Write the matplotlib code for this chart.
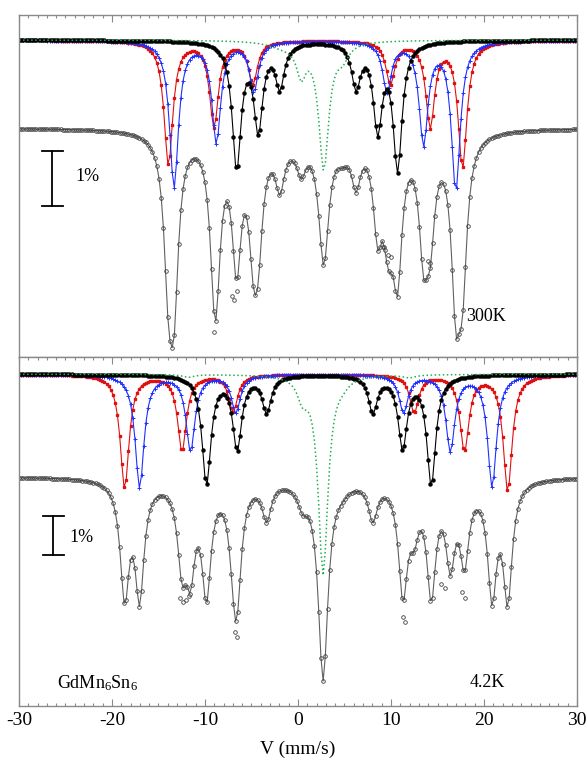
import numpy as np
import matplotlib
matplotlib.use('Agg')
import matplotlib.pyplot as plt
from matplotlib.ticker import MultipleLocator

# velocity channels (folded spectrum, 256 channels)
n_channels = 256
v_min, v_max = -30.0, 30.0

# ---- 300 K : line positions (mm/s), depths (%), widths (mm/s) ----
top_red_pos = [-13.93, -9.03, -4.85, 9.93, 14.22, 17.69]
top_red_depth = [2.26, 1.56, 0.78, 0.78, 1.54, 2.30]
top_blue_pos = [-13.33, -8.78, -4.74, 9.57, 13.50, 16.97]
top_blue_depth = [2.66, 1.83, 0.90, 0.90, 1.85, 2.70]
top_black_pos = [-6.60, -4.27, -1.95, 6.24, 8.57, 10.71]
top_black_depth = [2.28, 1.56, 0.80, 0.80, 1.56, 2.30]
top_green_pos = [-1.5, 0.35, 2.77, 4.8]
top_green_depth = [0.10, 0.55, 2.30, 0.25]
top_green_width = [4.0, 1.2, 1.3, 1.6]

# measured points that sit off the fit (velocity, %)
top_off_v = [-9.03, -7.10, -6.90, -6.56, 9.14, 9.35, 9.68, 10.0, 14.0, 14.2]
top_off_y = [-3.71, -3.05, -3.13, -2.96, -2.16, -2.22, -2.31, -2.35, -2.42, -2.46]

# ---- 4.2 K ----
bot_red_pos = [-18.64, -12.47, -6.97, 12.50, 17.90, 22.55]
bot_red_depth = [2.92, 1.95, 0.95, 0.97, 1.95, 2.98]
bot_blue_pos = [-17.03, -11.56, -6.68, 11.35, 16.38, 20.87]
bot_blue_depth = [2.90, 1.95, 0.97, 0.97, 1.95, 2.87]
bot_black_pos = [-9.84, -6.54, -3.37, 8.05, 11.25, 14.33]
bot_black_depth = [2.80, 1.88, 0.94, 0.94, 1.84, 2.80]
bot_green_pos = [-11.8, 0.5, 2.70, 4.8, 12.0]
bot_green_depth = [0.07, 0.50, 5.10, 0.12, 0.07]
bot_green_width = [1.5, 1.3, 1.26, 1.6, 1.5]

bot_off_v = [-12.7, -12.4, -12.0, -11.7, -6.75, -6.6, 11.3, 11.5, 15.4, 15.8, 17.6, 18.0]
bot_off_y = [-3.10, -3.22, -3.16, -3.05, -3.98, -4.10, -3.60, -3.72, -2.75, -2.85, -2.95, -3.12]

line_fwhm = 1.15

# vertical offset of the subspectra above the measured spectrum (%)
top_comp_offset = 1.60
bot_comp_offset = 2.63


def lorentz_sum(v, positions, depths, widths):
    """sum of lorentzian absorption lines"""
    out = np.zeros_like(v)
    for p, d, w in zip(positions, depths, widths):
        hw = w / 2.0
        out += d / (1.0 + ((v - p) / hw) ** 2)
    return out


def draw_panel(ax, v, red, blue, black, green, offset, off_v, off_y):
    """画出子谱和总谱"""
    ax.plot(v, offset - red, '-', color='#e01010', lw=0.8,
            marker='s', ms=1.8, mec='#e01010', mfc='#e01010')
    ax.plot(v, offset - blue, '-', color='#2030ff', lw=0.8,
            marker='+', ms=3.2, mew=0.7)
    ax.plot(v, offset - black, '-', color='black', lw=0.8,
            marker='o', ms=2.2, mec='black', mfc='black')
    ax.plot(v, offset - green, ':', color='#20b050', lw=1.1)

    total = -(red + blue + black + green)
    ax.plot(v, total, '-', color='#606060', lw=0.8)
    ax.plot(v, total, 'o', ms=2.6, mfc='none', mec='#404040', mew=0.6)
    ax.plot(off_v, off_y, 'o', ms=2.6, mfc='none', mec='#404040', mew=0.6)


def style_axis(ax, ylim):
    ax.set_xlim(v_min, v_max)
    ax.set_ylim(*ylim)
    ax.set_yticks([])
    ax.xaxis.set_major_locator(MultipleLocator(10))
    ax.xaxis.set_minor_locator(MultipleLocator(1))
    for s in ax.spines.values():
        s.set_color('#8a8a8a')
        s.set_linewidth(1.0)
    ax.tick_params(axis='x', which='major', direction='in', length=5,
                   width=0.8, color='#8a8a8a')
    ax.tick_params(axis='x', which='minor', direction='in', length=2.5,
                   width=0.8, color='#8a8a8a')


def scale_bar(ax, x, y_top, x_text, y_text):
    ax.plot([x, x], [y_top, y_top - 1.0], color='black', lw=1.3)
    ax.plot([x - 1.1, x + 1.1], [y_top, y_top], color='black', lw=1.3)
    ax.plot([x - 1.1, x + 1.1], [y_top - 1.0, y_top - 1.0], color='black', lw=1.3)
    ax.text(x_text, y_text, '1%', fontsize=13, va='center', ha='left')


def main():
    plt.rcParams['font.family'] = ['Liberation Serif', 'DejaVu Serif']
    plt.rcParams['mathtext.fontset'] = 'custom'
    plt.rcParams['mathtext.rm'] = 'Liberation Serif'
    plt.rcParams['mathtext.it'] = 'Liberation Serif:italic'
    plt.rcParams['axes.unicode_minus'] = False

    v = np.linspace(v_min, v_max, n_channels)
    w6 = [line_fwhm] * 6

    fig = plt.figure(figsize=(5.88, 7.63), dpi=100)
    ax1 = fig.add_axes([0.0323, 0.5321, 0.9490, 0.4482])
    ax2 = fig.add_axes([0.0323, 0.0747, 0.9490, 0.4574])

    # 300 K
    draw_panel(ax1, v,
               lorentz_sum(v, top_red_pos, top_red_depth, w6),
               lorentz_sum(v, top_blue_pos, top_blue_depth, w6),
               lorentz_sum(v, top_black_pos, top_black_depth, w6),
               lorentz_sum(v, top_green_pos, top_green_depth, top_green_width),
               top_comp_offset, top_off_v, top_off_y)
    style_axis(ax1, (-4.164, 2.055))
    ax1.tick_params(axis='x', which='both', top=True, bottom=False,
                    labelbottom=False)
    scale_bar(ax1, -26.4, -0.418, -23.9, -0.89)
    ax1.text(20.2, -3.42, '300K', fontsize=13, ha='center', va='center')

    # 4.2 K
    draw_panel(ax2, v,
               lorentz_sum(v, bot_red_pos, bot_red_depth, w6),
               lorentz_sum(v, bot_blue_pos, bot_blue_depth, w6),
               lorentz_sum(v, bot_black_pos, bot_black_depth, w6),
               lorentz_sum(v, bot_green_pos, bot_green_depth, bot_green_width),
               bot_comp_offset, bot_off_v, bot_off_y)
    style_axis(ax2, (-5.88, 3.07))
    ax2.tick_params(axis='x', which='both', top=True, bottom=True,
                    labelsize=14, pad=4)
    scale_bar(ax2, -26.3, -1.008, -24.6, -1.56)
    ax2.text(20.4, -5.29, '4.2K', fontsize=13, ha='center', va='center')
    ax2.text(-25.9, -5.29, 'GdMn$_6$Sn$_6$', fontsize=13, ha='left', va='center')
    ax2.set_xlabel('V (mm/s)', fontsize=14, labelpad=9)

    fig.savefig('out.png', dpi=100)


if __name__ == "__main__":
    main()
